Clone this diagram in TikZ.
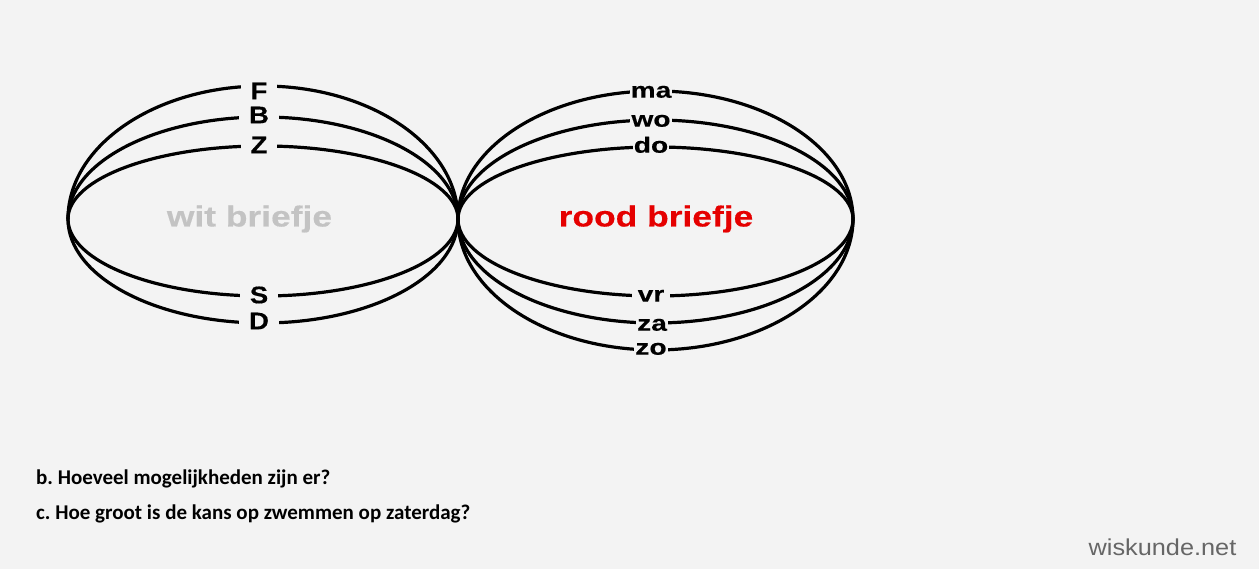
\documentclass[tikz,border=0pt]{standalone}
\usepackage{fontspec}
\setmainfont{Liberation Sans}
\newfontfamily\capfont[FakeStretch=1.15, FakeBold=0.4]{Liberation Sans}
\newfontfamily\lowfont[FakeStretch=1.28, FakeBold=0.4]{Liberation Sans}
\newfontfamily\bigfont[FakeStretch=1.22, FakeBold=0.4]{Liberation Sans}
\newfontfamily\qfont{Carlito}
\newfontfamily\wmfont[FakeStretch=1.1]{Liberation Sans}
\definecolor{bg}{HTML}{F3F3F3}
\definecolor{witgray}{HTML}{C3C3C3}
\definecolor{roodred}{HTML}{E50000}
\definecolor{wmgray}{HTML}{666666}
\tikzset{
  curve/.style={line width=3.2pt, black},
  leftlbl/.style={fill=bg, inner ysep=0pt, inner xsep=10pt, font=\capfont\bfseries\fontsize{24}{26}\selectfont},
  rightlbl/.style={fill=bg, inner ysep=0pt, inner xsep=1pt, text height=11.4pt, text depth=0pt, font=\lowfont\bfseries\fontsize{22}{24}\selectfont},
  bigtxt/.style={font=\bigfont\bfseries\fontsize{29}{32}\selectfont, text height=15pt, text depth=0pt, inner sep=0pt},
  qtxt/.style={anchor=base west, inner sep=0pt, font=\qfont\bfseries\fontsize{21}{24}\selectfont},
}
\begin{document}
\frenchspacing
\begin{tikzpicture}[x=1pt,y=1pt]
\useasboundingbox (0,0) rectangle (1259,569);
\fill[bg] (0,0) rectangle (1259,569);
\coordinate (L) at (68,350);
\coordinate (M) at (458,350);
\coordinate (R) at (853,350);
% left lens
\draw[curve] (L) arc[start angle=180, end angle=0, x radius=195, y radius=133];
\draw[curve] (L) arc[start angle=180, end angle=0, x radius=195, y radius=102];
\draw[curve] (L) arc[start angle=180, end angle=0, x radius=195, y radius=73];
\draw[curve] (L) arc[start angle=180, end angle=360, x radius=195, y radius=77];
\draw[curve] (L) arc[start angle=180, end angle=360, x radius=195, y radius=104];
% right lens
\draw[curve] (M) arc[start angle=180, end angle=0, x radius=197.5, y radius=128];
\draw[curve] (M) arc[start angle=180, end angle=0, x radius=197.5, y radius=99];
\draw[curve] (M) arc[start angle=180, end angle=0, x radius=197.5, y radius=72];
\draw[curve] (M) arc[start angle=180, end angle=360, x radius=197.5, y radius=77];
\draw[curve] (M) arc[start angle=180, end angle=360, x radius=197.5, y radius=104];
\draw[curve] (M) arc[start angle=180, end angle=360, x radius=197.5, y radius=131];
% labels left
\node[leftlbl] (F) at (259,478) {F};
\node[leftlbl] (B) at (259,454) {B};
\node[leftlbl] (Z) at (259,424) {Z};
\node[leftlbl] (S) at (259,274) {S};
\node[leftlbl] (D) at (259,248) {D};
% labels right
\node[rightlbl] (ma) at (651,477) {ma};
\node[rightlbl] (wo) at (651,448) {wo};
\node[rightlbl] (do) at (651,422) {do};
\node[rightlbl, inner xsep=6pt] (vr) at (651,273) {vr};
\node[rightlbl] (za) at (652,244) {za};
\node[rightlbl] (zo) at (651,220) {zo};
% centre texts
\node[bigtxt, text=witgray] (wit) at (249.5,350) {wit briefje};
\node[bigtxt, text=roodred] (rood) at (656,350) {rood briefje};
% questions
\node[qtxt] (qb) at (36,84) {b. Hoeveel mogelijkheden zijn er?};
\node[qtxt] (qc) at (36,49) {c. Hoe groot is de kans op zwemmen op zaterdag?};
% watermark
\node[anchor=base, inner sep=0pt, text=wmgray, font=\wmfont\fontsize{23}{26}\selectfont] (wm) at (1162.5,13) {wiskunde.net};
\end{tikzpicture}
\end{document}
